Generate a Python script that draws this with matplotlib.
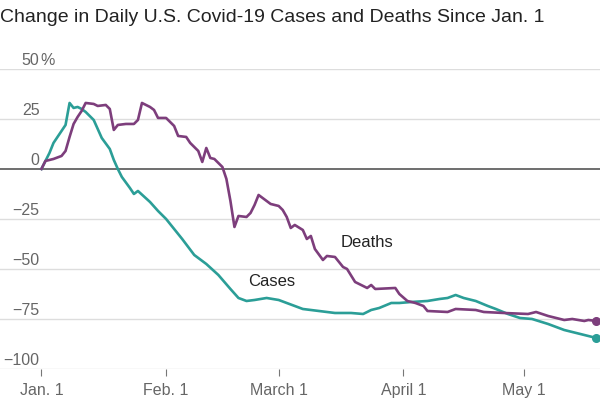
# Change in daily U.S. Covid-19 cases and deaths since Jan. 1
import numpy as np
import matplotlib.pyplot as plt

plt.rcParams['font.family'] = ['Liberation Sans', 'DejaVu Sans']

# Days since Jan. 1 and percent change
death_days = [0, 1, 3, 5, 6, 7, 8, 9, 10, 11, 13, 14, 16, 17, 18, 19, 21, 23,
              24, 25, 27, 28, 29, 31, 33, 34, 36, 37, 39, 40, 41, 42, 43, 45,
              46, 47, 48, 49, 51, 52, 53, 54, 55, 57, 59, 60, 61, 62, 63, 65,
              66, 67, 68, 70, 71, 73, 75, 76, 78, 80, 81, 82, 83, 88, 89, 91,
              93, 95, 96, 101, 103, 108, 110, 115, 121, 123, 126, 130, 132,
              135, 136, 138]
deaths = [0, 4, 5, 6.5, 9, 16, 22.5, 26, 29, 33, 32.5, 31.5, 32, 30, 19.5, 22,
          22.5, 22.5, 24.5, 33, 31, 29.5, 25.5, 25.5, 21.5, 16.5, 16, 13, 9,
          3.5, 10.5, 5.5, 5, 1, -5, -16, -29, -23.5, -24, -22, -18, -13,
          -14.5, -17.5, -18.5, -20.5, -24, -29.5, -28, -30.5, -35, -33.5, -40,
          -45.5, -43.5, -44, -49, -50, -56.5, -58.5, -59.5, -58, -60, -59.5,
          -62.5, -66, -67, -68.5, -71, -71.5, -70, -70.5, -71.5, -72, -72.5,
          -71.5, -73.5, -75.5, -75, -76, -75.5, -76]

case_days = [0, 2, 3, 5, 6, 7, 8, 9, 10, 11, 13, 14, 15, 17, 18, 19, 20, 22,
             23, 24, 27, 29, 31, 35, 38, 41, 44, 47, 49, 51, 53, 56, 59, 63,
             65, 69, 73, 77, 80, 82, 84, 87, 89, 92, 96, 99, 101, 103, 105,
             108, 111, 113, 116, 119, 122, 126, 130, 134, 138]
cases = [0, 8, 13, 19, 22, 33, 30.5, 31, 30, 28.5, 24.5, 20, 15.5, 10, 4.5, 0,
         -4, -9.5, -12.5, -11, -16.5, -21, -25, -35, -43, -47.5, -53, -60,
         -64.5, -66, -65.5, -64.5, -65.5, -68.5, -70, -71, -72, -72, -72.5,
         -70.5, -69.5, -67, -67, -66.5, -66, -65, -64.5, -63, -64.5, -66,
         -68.5, -70, -72.5, -74.5, -75, -77.5, -80.5, -82.5, -84.5]

month_days = [0, 31, 59, 90, 120]
month_labels = ["Jan. 1", "Feb. 1", "March 1", "April 1", "May 1"]
y_ticks = [50, 25, 0, -25, -50, -75, -100]

death_color = "#7d3e7c"
case_color = "#2b9e97"

fig = plt.figure(figsize=(6.0, 3.99), dpi=100)
ax = fig.add_axes([0.0, 0.0752, 1.0, 0.752])
ax.set_xlim(-10.3, 138.9)
ax.set_ylim(-100, 50)

for v in y_ticks:
    if v == 0:
        ax.axhline(v, color="#555555", lw=1.2, zorder=1)
    else:
        ax.axhline(v, color="#dddddd", lw=1.0, zorder=1)
    lab = str(v).replace("-", "\u2212")
    ax.text(0.066, v + 2.2, lab, transform=ax.get_yaxis_transform(),
            ha="right", va="baseline", fontsize=11.5, color="#666666")
ax.text(0.068, 50 + 2.2, "%", transform=ax.get_yaxis_transform(),
        ha="left", va="baseline", fontsize=11.5, color="#666666")

ax.plot(case_days, cases, color=case_color, lw=1.9, zorder=3,
        solid_joinstyle="round")
ax.plot(death_days, deaths, color=death_color, lw=1.9, zorder=3,
        solid_joinstyle="round")
ax.plot(case_days[-1], cases[-1], "o", color=case_color, ms=5.5, zorder=4,
        clip_on=False)
ax.plot(death_days[-1], deaths[-1], "o", color=death_color, ms=5.5, zorder=4,
        clip_on=False)

ax.text(74.3, -36.8, "Deaths", fontsize=12, color="#222222", va="center")
ax.text(51.4, -56.3, "Cases", fontsize=12, color="#222222", va="center")

for s in ax.spines.values():
    s.set_visible(False)
ax.set_yticks([])
ax.set_xticks(month_days)
ax.set_xticklabels(month_labels)
ax.tick_params(axis="x", length=5, width=0.8, color="#777777", pad=5,
               labelsize=11.5, labelcolor="#666666", direction="out")

fig.text(0.0, 0.978, "Change in Daily U.S. Covid-19 Cases and Deaths Since Jan. 1",
         fontsize=14, color="#222222", ha="left", va="top")

fig.savefig("out.png", dpi=100)
